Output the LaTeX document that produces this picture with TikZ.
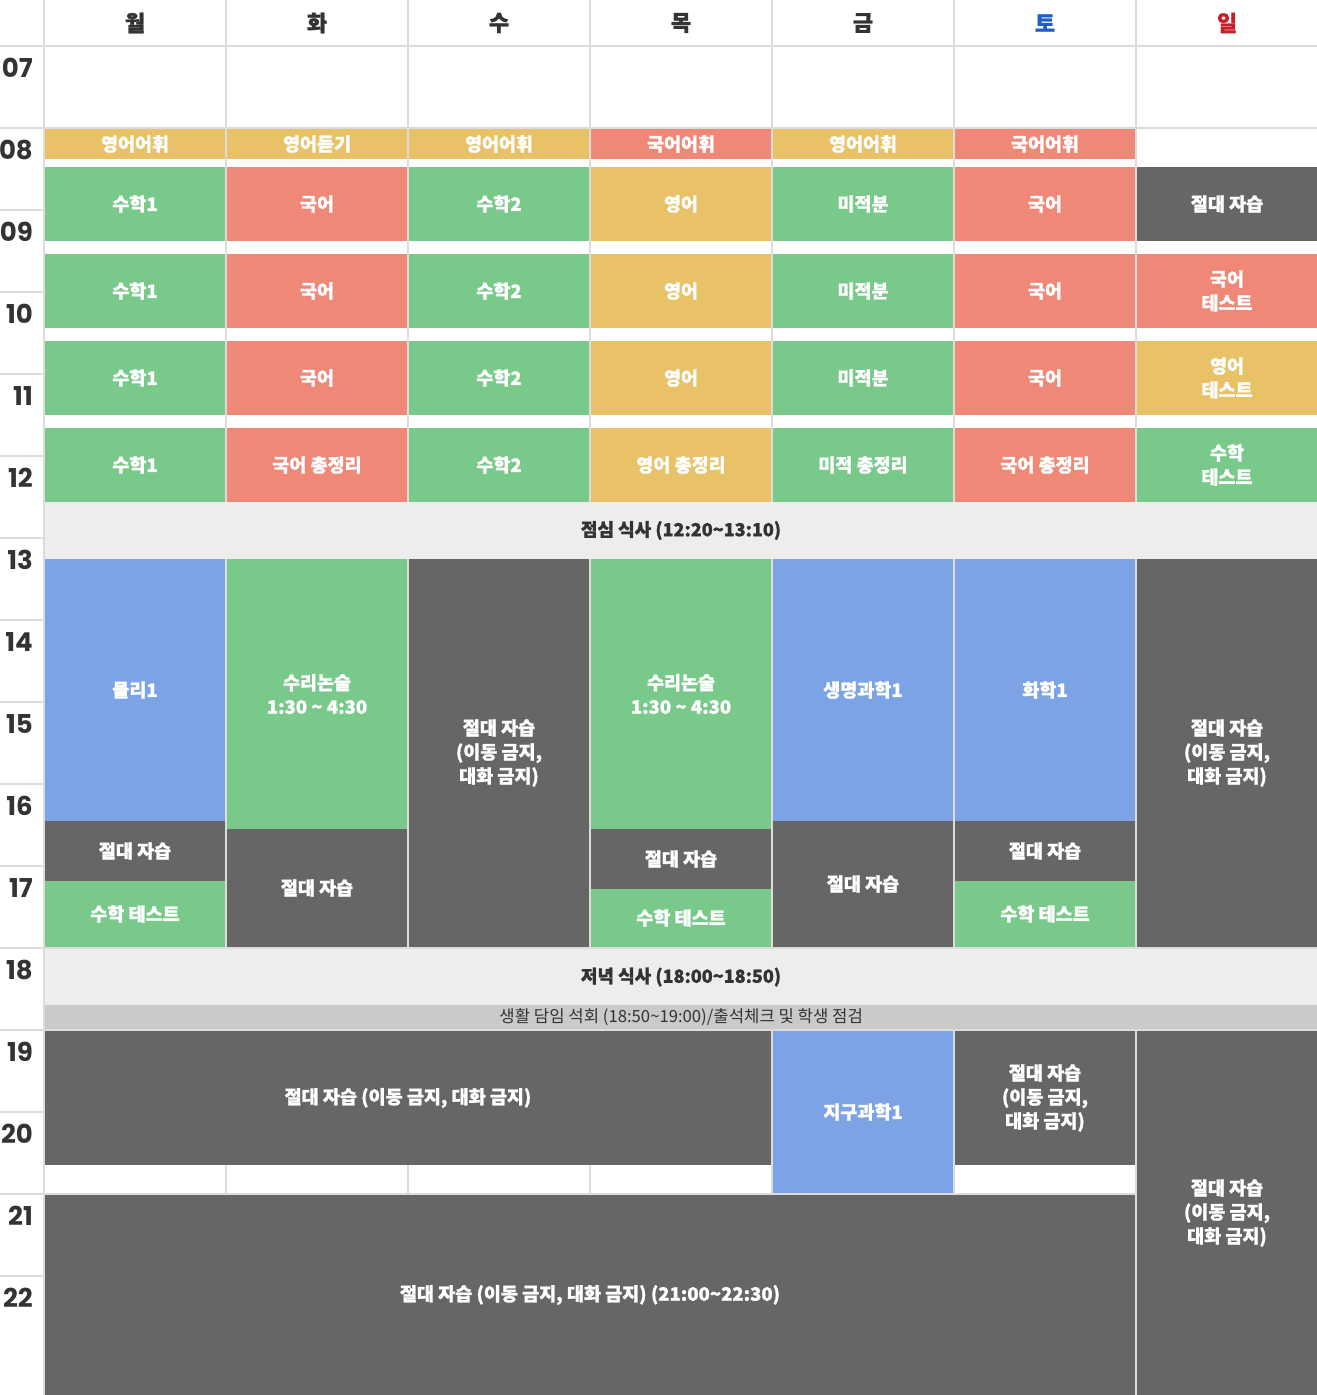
\documentclass[tikz,border=0pt]{standalone}
\usepackage{fontspec}
\setmainfont{Noto Sans CJK KR}
\newfontfamily\heavy{Noto Sans CJK KR}[BoldFeatures={FakeBold=1.2}]
\newfontfamily\hourfont{Poppins}
\definecolor{cy}{HTML}{E9C268}
\definecolor{cr}{HTML}{F08878}
\definecolor{cg}{HTML}{78C98A}
\definecolor{cb}{HTML}{7BA3E5}
\definecolor{cd}{HTML}{666666}
\definecolor{cl}{HTML}{EDEDED}
\definecolor{cm}{HTML}{CACACA}
\definecolor{gridc}{HTML}{DCDCDC}
\definecolor{txt}{HTML}{333333}
\definecolor{sat}{HTML}{1E5FC8}
\definecolor{sun}{HTML}{C81E28}
\tikzset{
  blk/.style={anchor=north west, inner sep=0pt, outer sep=0pt, text=white,
    font=\heavy\bfseries\fontsize{18.5}{24}\selectfont, align=center},
  gridline/.style={draw=gridc, line width=2pt},
  dayhead/.style={font=\heavy\bfseries\fontsize{22}{26}\selectfont, text=txt, inner sep=0pt},
  hourlbl/.style={font=\hourfont\bfseries\fontsize{26}{30}\selectfont, text=txt, anchor=east, inner sep=0pt},
}
\newcommand\blk[7]{\node[blk, fill=#6, minimum width={(#4-#2)*1pt}, minimum height={(#5-#3)*1pt}] (#1) at (#2,#3) {#7};}
\begin{document}
\begin{tikzpicture}[x=1pt,y=-1pt]
\useasboundingbox (0,0) rectangle (1317,1395);
\fill[white] (0,0) rectangle (1317,1395);
% grid
\foreach \x in {44,226,408,590,772,954,1136} \draw[gridline] (\x,0) -- (\x,1395);
\draw[gridline] (0,46) -- (1317,46);
\foreach \h in {128,210,292,374,456,538,620,702,784,866,948,1030,1112,1194,1276} \draw[gridline] (0,\h) -- (1317,\h);
% headers
\node[dayhead] (hmon) at (135,23) {월};
\node[dayhead] (htue) at (317,23) {화};
\node[dayhead] (hwed) at (499,23) {수};
\node[dayhead] (hthu) at (681,23) {목};
\node[dayhead] (hfri) at (863,23) {금};
\node[dayhead, text=sat] (hsat) at (1045,23) {토};
\node[dayhead, text=sun] (hsun) at (1227,23) {일};
% hours
\foreach \t [count=\i from 0] in {07,08,09,10,11,12,13,14,15,16,17,18,19,20,21,22}
  \node[hourlbl] (hr\i) at (33,{46+82*\i+22}) {\t};
% row 0 (08:00)
\blk{a0}{45}{129}{225}{159}{cy}{영어어휘}
\blk{b0}{227}{129}{407}{159}{cy}{영어듣기}
\blk{c0}{409}{129}{589}{159}{cy}{영어어휘}
\blk{d0}{591}{129}{771}{159}{cr}{국어어휘}
\blk{e0}{773}{129}{953}{159}{cy}{영어어휘}
\blk{f0}{955}{129}{1135}{159}{cr}{국어어휘}
% row 1
\blk{a1}{45}{167}{225}{241}{cg}{수학1}
\blk{b1}{227}{167}{407}{241}{cr}{국어}
\blk{c1}{409}{167}{589}{241}{cg}{수학2}
\blk{d1}{591}{167}{771}{241}{cy}{영어}
\blk{e1}{773}{167}{953}{241}{cg}{미적분}
\blk{f1}{955}{167}{1135}{241}{cr}{국어}
\blk{g1}{1137}{167}{1317}{241}{cd}{절대 자습}
% row 2
\blk{a2}{45}{254}{225}{328}{cg}{수학1}
\blk{b2}{227}{254}{407}{328}{cr}{국어}
\blk{c2}{409}{254}{589}{328}{cg}{수학2}
\blk{d2}{591}{254}{771}{328}{cy}{영어}
\blk{e2}{773}{254}{953}{328}{cg}{미적분}
\blk{f2}{955}{254}{1135}{328}{cr}{국어}
\blk{g2}{1137}{254}{1317}{328}{cr}{국어\\테스트}
% row 3
\blk{a3}{45}{341}{225}{415}{cg}{수학1}
\blk{b3}{227}{341}{407}{415}{cr}{국어}
\blk{c3}{409}{341}{589}{415}{cg}{수학2}
\blk{d3}{591}{341}{771}{415}{cy}{영어}
\blk{e3}{773}{341}{953}{415}{cg}{미적분}
\blk{f3}{955}{341}{1135}{415}{cr}{국어}
\blk{g3}{1137}{341}{1317}{415}{cy}{영어\\테스트}
% row 4
\blk{a4}{45}{428}{225}{502}{cg}{수학1}
\blk{b4}{227}{428}{407}{502}{cr}{국어 총정리}
\blk{c4}{409}{428}{589}{502}{cg}{수학2}
\blk{d4}{591}{428}{771}{502}{cy}{영어 총정리}
\blk{e4}{773}{428}{953}{502}{cg}{미적 총정리}
\blk{f4}{955}{428}{1135}{502}{cr}{국어 총정리}
\blk{g4}{1137}{428}{1317}{502}{cg}{수학\\테스트}
% lunch
\blk{lunch}{45}{502}{1317}{559}{cl}{\textcolor{txt}{\fontsize{18}{22}\selectfont 점심 식사 (12:20\textasciitilde13:10)}}
% afternoon
\blk{a5}{45}{559}{225}{821}{cb}{물리1}
\blk{a6}{45}{821}{225}{881}{cd}{절대 자습}
\blk{a7}{45}{881}{225}{947}{cg}{수학 테스트}
\blk{b5}{227}{559}{407}{829}{cg}{수리논술\\1:30 \textasciitilde{} 4:30}
\blk{b6}{227}{829}{407}{947}{cd}{절대 자습}
\blk{c5}{409}{559}{589}{947}{cd}{절대 자습\\(이동 금지,\\대화 금지)}
\blk{d5}{591}{559}{771}{829}{cg}{수리논술\\1:30 \textasciitilde{} 4:30}
\blk{d6}{591}{829}{771}{889}{cd}{절대 자습}
\blk{d7}{591}{889}{771}{947}{cg}{수학 테스트}
\blk{e5}{773}{559}{953}{821}{cb}{생명과학1}
\blk{e6}{773}{821}{953}{947}{cd}{절대 자습}
\blk{f5}{955}{559}{1135}{821}{cb}{화학1}
\blk{f6}{955}{821}{1135}{881}{cd}{절대 자습}
\blk{f7}{955}{881}{1135}{947}{cg}{수학 테스트}
\blk{g5}{1137}{559}{1317}{947}{cd}{절대 자습\\(이동 금지,\\대화 금지)}
% dinner
\blk{dinner}{45}{949}{1317}{1005}{cl}{\textcolor{txt}{\fontsize{18}{22}\selectfont 저녁 식사 (18:00\textasciitilde18:50)}}
\node[anchor=north west, inner sep=0pt, fill=cm, minimum width=1272pt, minimum height=24pt,
  text=txt, font=\fontsize{16.7}{18}\selectfont] (meet) at (45,1005) {생활 담임 석회 (18:50\textasciitilde19:00)/출석체크 및 학생 점검};
% evening
\blk{ev1}{45}{1031}{771}{1165}{cd}{절대 자습 (이동 금지, 대화 금지)}
\blk{ev2}{773}{1031}{953}{1193}{cb}{지구과학1}
\blk{ev3}{955}{1031}{1135}{1165}{cd}{절대 자습\\(이동 금지,\\대화 금지)}
\blk{ev4}{1137}{1031}{1317}{1395}{cd}{절대 자습\\(이동 금지,\\대화 금지)}
\blk{ev5}{45}{1195}{1135}{1395}{cd}{절대 자습 (이동 금지, 대화 금지) (21:00\textasciitilde22:30)}
\end{tikzpicture}
\end{document}
